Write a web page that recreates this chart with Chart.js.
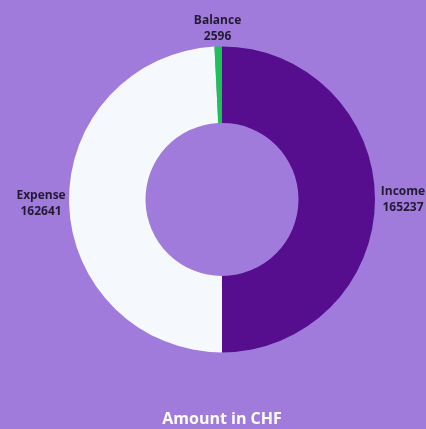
<!DOCTYPE html>
<html>
<head>
<meta charset="utf-8">
<script src="https://cdn.jsdelivr.net/npm/chart.js@4/dist/chart.umd.min.js"></script>
<style>
  html, body { margin: 0; padding: 0; background: #a07bdb; }
  #wrap { width: 426px; height: 429px; }
</style>
</head>
<body>
<div id="wrap"><canvas id="chart"></canvas></div>
<script>
const categories = ['Income', 'Expense', 'Balance'];
const amounts = [165237, 162641, 2596];
const sliceColors = ['#560d8e', '#f5f9fd', '#1cc257'];

// draws "name / value" outside each slice
const outsideLabels = {
    id: 'outsideLabels',
    afterDatasetsDraw(chart) {
        const ctx = chart.ctx;
        const meta = chart.getDatasetMeta(0);
        ctx.save();
        ctx.fillStyle = '#231a33';
        ctx.font = 'bold 12px "Open Sans"';
        ctx.textAlign = 'center';
        ctx.textBaseline = 'middle';
        meta.data.forEach((arc, i) => {
            const mid = (arc.startAngle + arc.endAngle) / 2;
            const r = arc.outerRadius + 18;
            const x = arc.x + Math.cos(mid) * (r + 10);
            const y = arc.y + Math.sin(mid) * r;
            ctx.fillText(categories[i], x, y - 8);
            ctx.fillText(String(amounts[i]), x, y + 8);
        });
        ctx.restore();
    }
};

new Chart(document.getElementById('chart'), {
    type: 'doughnut',
    data: {
        labels: categories,
        datasets: [{
            data: amounts,
            backgroundColor: sliceColors,
            borderWidth: 0
        }]
    },
    options: {
        responsive: true,
        maintainAspectRatio: false,
        animation: false,
        cutout: '50%',
        layout: {
            padding: {top: 46, left: 69, right: 51, bottom: 0}
        },
        plugins: {
            legend: {display: false},
            tooltip: {enabled: false},
            title: {
                display: true,
                position: 'bottom',
                text: 'Amount in CHF',
                color: '#ffffff',
                font: {family: '"Open Sans"', size: 16, weight: 'bold'},
                padding: {top: 57, bottom: 0}
            }
        }
    },
    plugins: [outsideLabels]
});
</script>
</body>
</html>
